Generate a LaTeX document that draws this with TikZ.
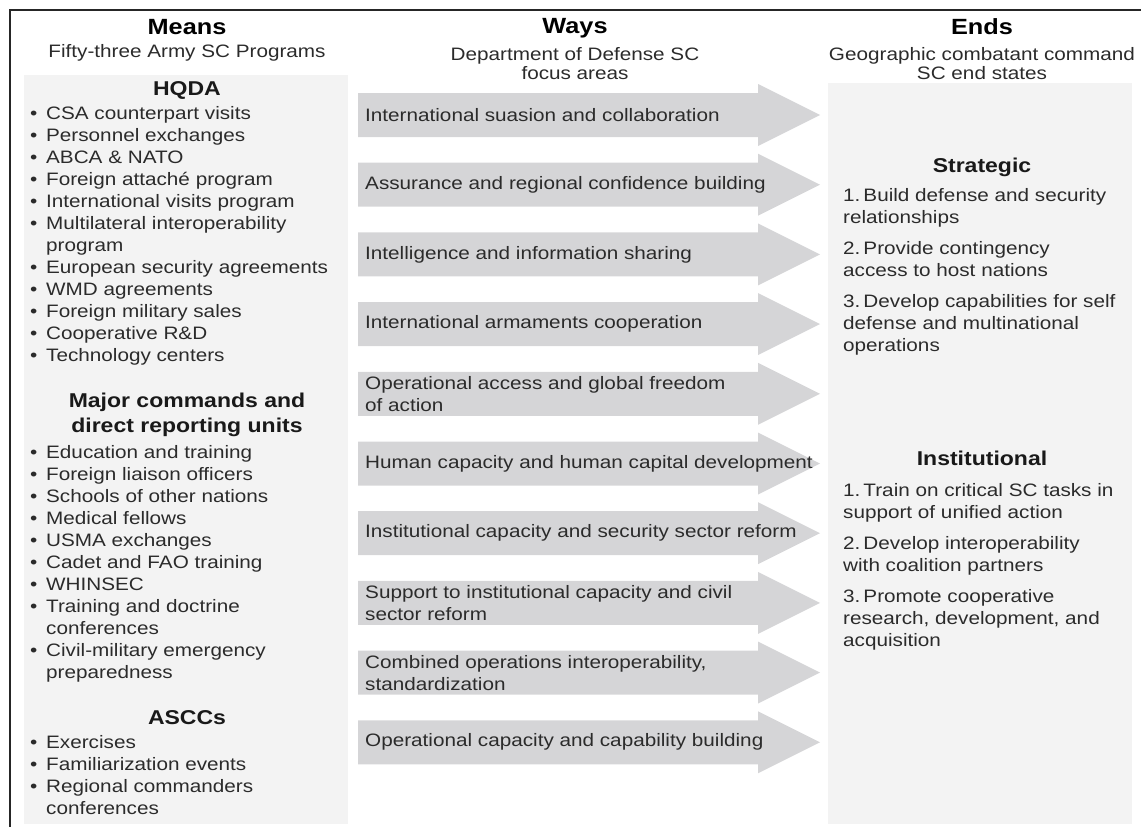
\documentclass[tikz,border=0pt]{standalone}
\usepackage{fontspec}
\setmainfont{Liberation Sans}[FakeStretch=1.15]
\usetikzlibrary{positioning}

\definecolor{panelgray}{HTML}{F3F3F3}
\definecolor{waygray}{HTML}{D5D5D7}
\definecolor{inkgray}{HTML}{2B2B2B}

\newcommand{\bul}{\makebox[16pt][l]{\textbullet}}
\newcommand{\cont}{\hspace*{16pt}}

\begin{document}
\begin{tikzpicture}[x=1pt,y=-1pt,
  coltitle/.style={font=\fontsize{22}{24}\selectfont\bfseries, text=black, inner sep=0pt},
  colsub/.style={font=\fontsize{18}{19}\selectfont, text=inkgray, align=center, inner sep=0pt},
  grouphead/.style={font=\fontsize{20}{25}\selectfont\bfseries, text=black!90, align=center, inner sep=0pt},
  itemlist/.style={font=\fontsize{18}{22}\selectfont, text=inkgray, align=left, inner sep=0pt, anchor=north west},
  waytext/.style={font=\fontsize{18}{22}\selectfont, text=inkgray, align=left, inner sep=0pt, anchor=west}]

  \useasboundingbox (0,0) rectangle (1141,827);
  % frame and panels
  \draw[line width=2pt, black!85] (10,827) -- (10,10) -- (1141,10);
  \fill[panelgray] (24,75) rectangle (348,824);
  \fill[panelgray] (828,83) rectangle (1132,824);

  % column titles
  \node[coltitle] (means) at (187,27) {Means};
  \node[colsub] (meanssub) at (187,53) {Fifty-three Army SC Programs};
  \node[coltitle] (ways) at (575,28) {Ways};
  \node[colsub] (wayssub) at (575,64) {Department of Defense SC\\focus areas};
  \node[coltitle] (ends) at (982,27) {Ends};
  \node[colsub] (endssub) at (982,64) {Geographic combatant command\\SC end states};

  % means
  \node[grouphead] (hqda) at (187,90) {HQDA};
  \node[itemlist] (hqdalist) at (30,106) {\bul CSA counterpart visits\\
    \bul Personnel exchanges\\
    \bul ABCA \& NATO\\
    \bul Foreign attaché program\\
    \bul International visits program\\
    \bul Multilateral interoperability\\
    \cont program\\
    \bul European security agreements\\
    \bul WMD agreements\\
    \bul Foreign military sales\\
    \bul Cooperative R\&D\\
    \bul Technology centers};
  \node[grouphead] (majcmd) at (187,415) {Major commands and\\direct reporting units};
  \node[itemlist] (majcmdlist) at (30,445) {\bul Education and training\\
    \bul Foreign liaison officers\\
    \bul Schools of other nations\\
    \bul Medical fellows\\
    \bul USMA exchanges\\
    \bul Cadet and FAO training\\
    \bul WHINSEC\\
    \bul Training and doctrine\\
    \cont conferences\\
    \bul Civil-military emergency\\
    \cont preparedness};
  \node[grouphead] (asccs) at (187,718) {ASCCs};
  \node[itemlist] (asccslist) at (30,735) {\bul Exercises\\
    \bul Familiarization events\\
    \bul Regional commanders\\
    \cont conferences};

  % ways
  \foreach \wtxt [count=\k] in {International suasion and collaboration,
      Assurance and regional confidence building,
      Intelligence and information sharing,
      International armaments cooperation,
      {Operational access and global freedom\\of action},
      Human capacity and human capital development,
      Institutional capacity and security sector reform,
      {Support to institutional capacity and civil\\sector reform},
      {Combined operations interoperability,\\standardization},
      Operational capacity and capability building} {
    \pgfmathsetmacro{\wy}{45.3+69.7*\k}
    \fill[waygray] (358,{\wy-22}) -- (758,{\wy-22}) -- (758,{\wy-31}) -- (820,\wy)
      -- (758,{\wy+31}) -- (758,{\wy+22}) -- (358,{\wy+22}) -- cycle;
    \node[waytext] (way\k) at (365,\wy) {\wtxt};
  }

  % ends
  \node[grouphead] (strat) at (982,167) {Strategic};
  \node[itemlist] (stratlist) at (843,188) {1.\,Build defense and security\\
    relationships\\[9pt]
    2.\,Provide contingency\\
    access to host nations\\[9pt]
    3.\,Develop capabilities for self\\
    defense and multinational\\
    operations};
  \node[grouphead] (inst) at (982,458) {Institutional};
  \node[itemlist] (instlist) at (843,483) {1.\,Train on critical SC tasks in\\
    support of unified action\\[9pt]
    2.\,Develop interoperability\\
    with coalition partners\\[9pt]
    3.\,Promote cooperative\\
    research, development, and\\
    acquisition};
\end{tikzpicture}
\end{document}
